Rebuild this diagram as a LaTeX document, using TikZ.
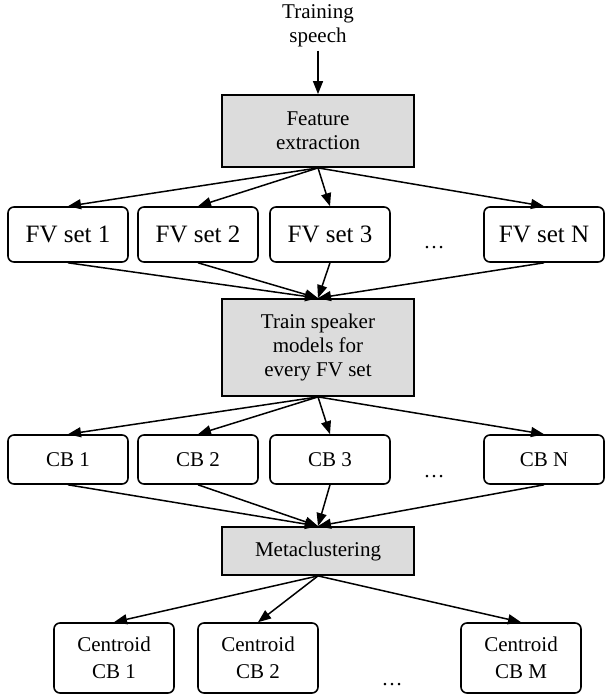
\documentclass[tikz,border=0pt]{standalone}
\usepackage{fontspec}
\setmainfont{Liberation Serif}
\definecolor{boxgray}{HTML}{DCDCDC}
\usetikzlibrary{arrows.meta}

\begin{document}
\begin{tikzpicture}[x=1pt,y=-1pt,
  font=\fontsize{21}{24}\selectfont,
  stage/.style={draw,line width=1.8pt,fill=boxgray,minimum width=192pt,align=center,inner sep=0pt},
  item/.style={draw,line width=1.6pt,rounded corners=6pt,minimum width=120pt,align=center,inner sep=0pt},
  flow/.style={-{Triangle[length=13pt,width=10pt]},line width=1.5pt}]
  \useasboundingbox (0,0) rectangle (604,700);

  % Input and feature extraction
  \node[align=center] (speech) at (318,26) {Training\\speech};
  \node[stage,minimum height=72pt] (feat) at (318,131) {Feature\\extraction};
  \draw[flow] (speech) -- (feat);

  % Feature vector sets
  \foreach \n/\x in {1/68,2/198,3/330,N/544} {
    \node[item,minimum height=55pt,font=\fontsize{25}{28}\selectfont] (fv\n) at (\x,234.5) {FV set \n};
    \draw[flow] (feat.south) -- (fv\n.north);
  }
  \node (fvdots) at (434,248) {\dots};

  % Speaker models
  \node[stage,minimum height=97pt] (train) at (318,347.5) {Train speaker\\models for\\every FV set};
  \foreach \n in {1,2,3,N} \draw[flow] (fv\n.south) -- (train.north);

  % Codebooks
  \foreach \n/\x in {1/68,2/198,3/330,N/544} {
    \node[item,minimum height=49pt] (cb\n) at (\x,459.5) {CB \n};
    \draw[flow] (train.south) -- (cb\n.north);
  }
  \node (cbdots) at (434,477) {\dots};

  % Metaclustering and centroid codebooks
  \node[stage,minimum height=48pt] (meta) at (318,551) {Metaclustering};
  \foreach \n in {1,2,3,N} \draw[flow] (cb\n.south) -- (meta.north);
  \foreach \n/\x in {1/114,2/258,M/521} {
    \node[item,minimum height=70pt,font=\fontsize{21}{27}\selectfont] (cent\n) at (\x,658) {Centroid\\CB \n};
    \draw[flow] (meta.south) -- (cent\n.north);
  }
  \node (centdots) at (392,685) {\dots};
\end{tikzpicture}
\end{document}
